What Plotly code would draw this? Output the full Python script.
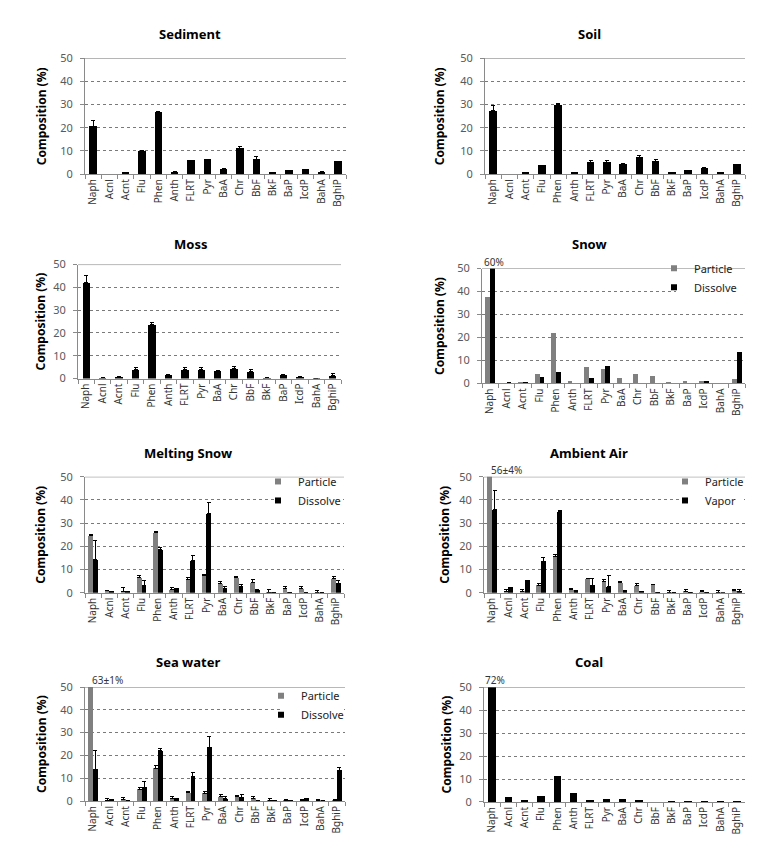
import plotly.graph_objects as go

W, H = 767, 857

categories = ["Naph", "Acnl", "Acnt", "Flu", "Phen", "Anth", "FLRT", "Pyr",
              "BaA", "Chr", "BbF", "BkF", "BaP", "IcdP", "BahA", "BghiP"]

sediment = [20.6, 0, 0.6, 9.9, 26.5, 1.0, 5.8, 6.5, 2.3, 11.1, 6.5, 0.7, 1.5, 2.1, 1.0, 5.6]
sediment_err = [2.6, None, None, 0.3, 0.5, None, 0.3, None, None, 0.8, 1.0, None, None, None, None, None]

soil = [27.3, 0, 0.6, 3.7, 29.9, 0.6, 5.1, 5.1, 4.4, 7.2, 5.6, 0.7, 1.5, 2.4, 0.8, 4.2]
soil_err = [2.4, None, None, None, 0.6, None, 0.8, 0.8, None, 0.7, 0.7, None, None, 0.6, None, None]

moss = [42.1, 0.3, 1.0, 4.0, 23.7, 1.6, 3.9, 4.0, 3.6, 4.3, 2.9, 0.3, 1.6, 1.0, 0.2, 1.4]
moss_err = [3.3, None, None, 0.7, 1.0, None, 0.8, 0.7, None, 0.8, 1.0, None, None, None, None, 0.7]

snow_particle = [37.9, 0.1, 0.7, 4.3, 22.1, 1.1, 7.5, 6.7, 2.4, 4.4, 3.3, 0.7, 1.3, 1.3, 0, 2.0]
snow_dissolve = [60, 1.0, 0.7, 3.0, 5.4, 0.3, 2.8, 7.8, 0, 0.3, 0, 0.2, 0, 1.3, 0.2, 13.7]

melt_particle = [24.5, 0.8, 0.7, 6.5, 25.9, 1.3, 5.7, 7.4, 3.8, 6.4, 4.2, 0.3, 1.8, 1.7, 0.3, 6.1]
melt_particle_err = [0.7, 0.3, 1.4, 0.9, 0.6, 1.0, 0.8, 0.5, 1.0, 0.4, 1.3, 1.0, 0.9, 1.0, 0.8, 0.8]
melt_dissolve = [14.2, 0.6, 0.6, 3.0, 18.6, 2.0, 13.9, 34.1, 1.8, 2.5, 1.4, 0.1, 0.1, 0.1, 0.05, 4.1]
melt_dissolve_err = [8.5, None, None, 2.2, 1.1, None, 2.1, 4.7, 1.0, 1.0, None, None, None, None, None, 1.1]

air_particle = [56, 0.6, 0.7, 3.3, 15.5, 1.3, 6.0, 4.7, 4.3, 3.1, 3.4, 0.3, 0.7, 0.4, 0.1, 0.9]
air_particle_err = [None, 0.7, 0.7, 0.8, 0.8, 0.7, None, 1.0, 0.5, 0.9, None, 0.8, 0.7, 0.7, 0.9, 0.7]
air_vapor = [35.8, 2.4, 5.4, 13.6, 34.9, 1.0, 3.3, 2.6, 0.4, 0.7, 0.3, 0.05, 0.1, 0.1, 0, 0.6]
air_vapor_err = [8.2, None, None, 1.4, 0.7, None, 2.7, 4.8, 0.6, None, None, None, None, None, None, 0.7]

sea_particle = [63, 0.3, 0.7, 5.1, 14.4, 1.1, 3.6, 3.3, 1.9, 1.9, 1.1, 0.1, 0.1, 0.1, 0.1, 0.2]
sea_particle_err = [None, 0.8, 0.7, 0.7, 1.0, 0.9, 0.6, 1.0, 0.9, 0.6, 0.7, 0.8, 0.7, 0.7, 0.7, 0.6]
sea_dissolve = [14.0, 0.7, 0.4, 6.1, 22.1, 1.1, 10.6, 23.6, 0.9, 1.6, 0.4, 0.05, 0.05, 1.1, 0.05, 13.6]
sea_dissolve_err = [8.3, None, None, 2.3, 1.0, None, 2.0, 4.7, 0.9, 1.1, None, None, None, None, None, 1.0]

coal = [72, 2.0, 1.0, 2.4, 11.5, 3.8, 0.7, 1.1, 1.3, 0.7, 0, 0.15, 0.15, 0.15, 0.15, 0.15]

FONT = "Noto Sans"
GRAY = "#808080"
AX = "#8a8a8a"

panels = [
    dict(name="Sediment", px=(77, 338, 43, 161), tx=182, ty=18, yx=33),
    dict(name="Soil", px=(477, 737, 43, 161), tx=581, ty=18, yx=431),
    dict(name="Moss", px=(70, 333, 253, 369), tx=182, ty=232, yx=33),
    dict(name="Snow", px=(474, 737, 257, 374), tx=581, ty=232, yx=432),
    dict(name="Melting Snow", px=(77, 336, 469, 587), tx=180, ty=445, yx=33),
    dict(name="Ambient Air", px=(476, 737, 469, 587), tx=581, ty=445, yx=437),
    dict(name="Sea water", px=(77, 337, 683, 799), tx=180, ty=658, yx=33),
    dict(name="Coal", px=(476, 737, 683, 800), tx=581, ty=658, yx=439),
]

fig = go.Figure()


def err(arr):
    if arr is None:
        return None
    return dict(type="data", symmetric=False, array=arr,
                arrayminus=[0] * len(arr), color="black", thickness=1, width=2)


def add_single(i, vals, errs):
    sfx = "" if i == 1 else str(i)
    fig.add_trace(go.Bar(x=categories, y=vals, width=0.45, marker_color="black",
                         marker_line_width=0, error_y=err(errs), showlegend=False,
                         xaxis="x" + sfx, yaxis="y" + sfx))


def add_pair(i, p, perr, d, derr, dname, legend_pos, box):
    sfx = "" if i == 1 else str(i)
    lg = "legend" + sfx
    fig.add_trace(go.Bar(x=categories, y=p, width=0.29, offset=-0.29, name="Particle",
                         marker_color=GRAY, marker_line_width=0, error_y=err(perr),
                         showlegend=False, xaxis="x" + sfx, yaxis="y" + sfx))
    fig.add_trace(go.Bar(x=categories, y=d, width=0.29, offset=0.0, name=dname,
                         marker_color="black", marker_line_width=0, error_y=err(derr),
                         showlegend=False, xaxis="x" + sfx, yaxis="y" + sfx))
    for nm, col in (("Particle", GRAY), (dname, "black")):
        fig.add_trace(go.Scatter(x=[None], y=[None], mode="markers", name=nm,
                                 marker=dict(symbol="square", size=6, color=col),
                                 legend=lg, xaxis="x" + sfx, yaxis="y" + sfx))
    lx, ly = legend_pos
    fig.update_layout(**{lg: dict(x=lx / W, y=1 - ly / H, xanchor="left", yanchor="top",
                                  bgcolor="rgba(0,0,0,0)", borderwidth=0,
                                  font=dict(family=FONT, size=11, color="#222"),
                                  itemwidth=30, tracegroupgap=0, traceorder="normal")})
    # white legend area hiding the gridline behind the legend entries
    x0, x1, y0, y1 = box
    fig.add_shape(type="rect", xref="paper", yref="paper", layer="above",
                  x0=x0 / W, x1=x1 / W, y0=1 - y1 / H, y1=1 - y0 / H,
                  fillcolor="white", line_width=0)


add_single(1, sediment, sediment_err)
add_single(2, soil, soil_err)
add_single(3, moss, moss_err)
add_pair(4, snow_particle, None, snow_dissolve, None, "Dissolve", (646, 242), (668, 736, 260, 297))
add_pair(5, melt_particle, melt_particle_err, melt_dissolve, melt_dissolve_err, "Dissolve",
         (250, 459), (272, 335, 472, 510))
add_pair(6, air_particle, air_particle_err, air_vapor, air_vapor_err, "Vapor",
         (657, 459), (679, 736, 472, 510))
add_pair(7, sea_particle, sea_particle_err, sea_dissolve, sea_dissolve_err, "Dissolve",
         (253, 677), (275, 336, 686, 725))
add_single(8, coal, None)

annotations = []
for i, p in enumerate(panels, start=1):
    sfx = "" if i == 1 else str(i)
    l, r, t, b = p["px"]
    fig.update_layout(**{
        "xaxis" + sfx: dict(domain=[l / W, r / W], anchor="y" + sfx, type="category",
                            categoryorder="array", categoryarray=categories,
                            range=[-0.5, 15.5], showgrid=False, showline=True,
                            linecolor=AX, linewidth=1, ticks="outside", tickson="boundaries",
                            ticklen=4, tickcolor=AX, tickangle=-90,
                            tickfont=dict(family=FONT, size=10, color="#333"),
                            mirror=False, zeroline=False),
        "yaxis" + sfx: dict(domain=[1 - b / H, 1 - t / H], anchor="x" + sfx,
                            range=[0, 50], tickvals=[0, 10, 20, 30, 40, 50],
                            showgrid=True, gridcolor="#7a7a7a", gridwidth=1, griddash="dot",
                            showline=True, linecolor=AX, linewidth=1, ticks="outside",
                            ticklen=4, tickcolor=AX, ticklabelstandoff=5,
                            tickfont=dict(family=FONT, size=11, color="#595959"),
                            zeroline=False),
    })
    annotations.append(dict(text="<b>%s</b>" % p["name"], x=p["tx"] / W, y=1 - p["ty"] / H,
                            xref="paper", yref="paper", showarrow=False,
                            xanchor="center", yanchor="middle",
                            font=dict(family=FONT, size=13, color="black")))
    annotations.append(dict(text="<b>Composition (%)</b>", x=p["yx"] / W,
                            y=1 - ((t + b) / 2) / H, xref="paper", yref="paper",
                            showarrow=False, textangle=-90, xanchor="center",
                            yanchor="middle", font=dict(family=FONT, size=12, color="black")))
    fig.add_shape(type="line", xref="x%s domain" % sfx, yref="y" + sfx,
                  x0=0, x1=1, y0=50, y1=50, line=dict(color="#7a7a7a", width=1))

clip_labels = [(4, "60%", 0.2, "center"), (6, "56±4%", -0.2, "left"),
               (7, "63±1%", -0.2, "left"), (8, "72%", 0.2, "center")]
for i, txt, dx, anc in clip_labels:
    sfx = "" if i == 1 else str(i)
    annotations.append(dict(text=txt, x=dx, y=50, xref="x" + sfx, yref="y" + sfx,
                            showarrow=False, xanchor=anc, yanchor="bottom", yshift=-2,
                            font=dict(family=FONT, size=10, color="#333")))

fig.update_layout(width=W, height=H, margin=dict(l=0, r=0, t=0, b=0),
                  paper_bgcolor="white", plot_bgcolor="white",
                  annotations=annotations, barmode="group", bargap=0)

fig.write_html("out.html")
